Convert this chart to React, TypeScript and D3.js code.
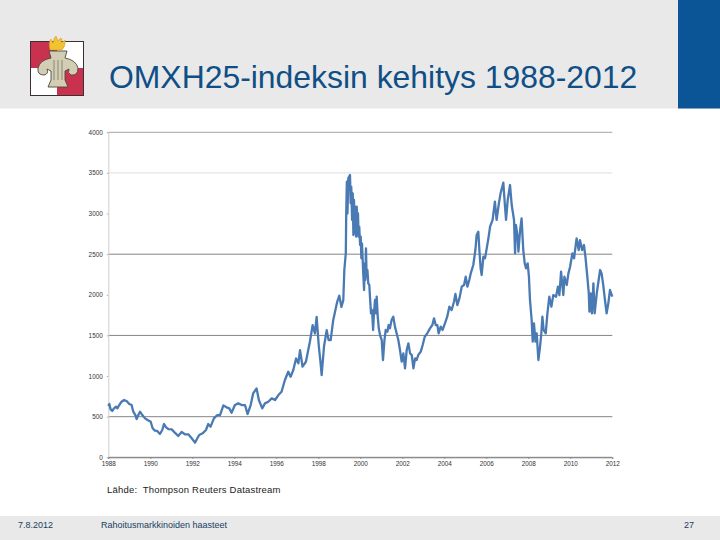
import React, { useEffect, useRef } from "react";
import * as d3 from "d3";

const titleText = "OMXH25-indeksin kehitys 1988-2012";
const sourceText = "Lähde:  Thompson Reuters Datastream";
const footerDate = "7.8.2012";
const footerName = "Rahoitusmarkkinoiden haasteet";
const footerPage = "27";

const yTicks = [0, 500, 1000, 1500, 2000, 2500, 3000, 3500, 4000];
const xTicks = [1988, 1990, 1992, 1994, 1996, 1998, 2000, 2002, 2004, 2006, 2008, 2010, 2012];
const darkGrid = [0, 500, 1500, 2500];
const midGrid = [4000];
const lightGrid = [3500];

const years = [
  1988.0, 1988.05, 1988.11, 1988.19, 1988.27, 1988.37, 1988.43, 1988.52, 1988.63, 1988.75, 1988.87,
  1989.0, 1989.11, 1989.19, 1989.29, 1989.35, 1989.43, 1989.51, 1989.62, 1989.75, 1989.87,
  1990.02, 1990.11, 1990.22, 1990.33, 1990.46, 1990.57, 1990.65, 1990.75, 1990.86,
  1991.02, 1991.17, 1991.33, 1991.49, 1991.65, 1991.81, 1991.97,
  1992.13, 1992.24, 1992.33, 1992.49, 1992.65, 1992.76, 1992.87,
  1993.03, 1993.19, 1993.32, 1993.48, 1993.63, 1993.76, 1993.87,
  1994.03, 1994.19, 1994.35, 1994.51, 1994.63, 1994.78, 1994.9,
  1995.06, 1995.17, 1995.33, 1995.46, 1995.62, 1995.78, 1995.94,
  1996.1, 1996.25, 1996.41, 1996.57, 1996.68, 1996.81, 1996.94,
  1997.05, 1997.13, 1997.25, 1997.41, 1997.6, 1997.73, 1997.84, 1997.92,
  1998.02, 1998.11, 1998.16, 1998.27, 1998.4, 1998.49, 1998.59, 1998.71, 1998.9,
  1999.0, 1999.1, 1999.19, 1999.24, 1999.31, 1999.33, 1999.36, 1999.39, 1999.43,
  1999.51, 1999.54, 1999.57, 1999.61, 1999.64, 1999.67, 1999.7, 1999.73, 1999.76, 1999.8,
  1999.83, 1999.86, 1999.89, 1999.92, 1999.95, 1999.99,
  2000.02, 2000.05, 2000.08, 2000.11, 2000.14, 2000.18, 2000.21, 2000.24, 2000.27, 2000.3,
  2000.34, 2000.38, 2000.43, 2000.46, 2000.51, 2000.56, 2000.61, 2000.65, 2000.7, 2000.75,
  2000.78, 2000.83, 2000.88, 2000.94,
  2001.02, 2001.08, 2001.15, 2001.21, 2001.29, 2001.35, 2001.41, 2001.49, 2001.57, 2001.65,
  2001.73, 2001.81, 2001.89, 2001.97,
  2002.05, 2002.13, 2002.21, 2002.29, 2002.37, 2002.45, 2002.53, 2002.61, 2002.68, 2002.76,
  2002.88, 2002.97,
  2003.07, 2003.19, 2003.32, 2003.43, 2003.51, 2003.59, 2003.67, 2003.73, 2003.83, 2003.92,
  2004.03, 2004.14, 2004.24, 2004.35, 2004.46, 2004.53, 2004.62, 2004.72, 2004.83, 2004.94,
  2005.02, 2005.1, 2005.19, 2005.26, 2005.38, 2005.48, 2005.54, 2005.62, 2005.67, 2005.73,
  2005.78, 2005.86, 2005.94,
  2006.02, 2006.1, 2006.18, 2006.3, 2006.41, 2006.49, 2006.6, 2006.68, 2006.81, 2006.88, 2006.94,
  2007.02, 2007.13, 2007.21, 2007.32, 2007.37, 2007.41, 2007.49, 2007.53, 2007.61, 2007.68,
  2007.76, 2007.83, 2007.89, 2007.97,
  2008.03, 2008.08, 2008.16, 2008.21, 2008.27, 2008.34, 2008.4, 2008.48, 2008.56, 2008.62,
  2008.67, 2008.73, 2008.83, 2008.91,
  2009.0, 2009.1, 2009.19, 2009.32, 2009.41, 2009.48, 2009.56, 2009.67, 2009.72, 2009.83,
  2009.91, 2009.99,
  2010.1, 2010.18, 2010.3, 2010.4, 2010.46, 2010.56, 2010.65, 2010.72, 2010.81, 2010.88,
  2010.91, 2010.97,
  2011.03, 2011.1, 2011.16, 2011.26, 2011.35, 2011.42, 2011.49, 2011.57, 2011.65, 2011.73,
  2011.81, 2011.89, 2012.0,
];

const values = [
  631, 656, 590, 570, 602, 623, 602, 643, 684, 705, 693,
  656, 643, 561, 520, 471, 520, 561, 520, 479, 459,
  438, 357, 328, 324, 287, 336, 410, 369, 348,
  344, 303, 262, 311, 283, 283, 234,
  180, 234, 275, 295, 336, 410, 377,
  479, 520, 520, 639, 615, 602, 549,
  643, 664, 643, 643, 533, 643, 787,
  848, 705, 602, 664, 684, 725, 705,
  766, 807, 951, 1053, 992, 1074, 1217,
  1156, 1320, 1115, 1176, 1422, 1627, 1524, 1729,
  1381, 1156, 1012, 1360, 1565, 1442, 1442, 1688, 1914,
  1990, 1850, 1935, 2305, 2514, 3006, 3392, 3000, 3437,
  3474, 3126, 3331, 2920, 3249, 2736, 3167, 2756, 3085, 2715,
  3085, 2736, 3003, 2715, 2838, 2613,
  2715, 2449, 2633, 2449, 2264, 2059, 2387, 2182, 2572, 2223,
  2305, 2141, 2120, 1977, 1772, 1813, 1567, 1772, 1936, 1772,
  1977, 1731, 1587, 1505,
  1443, 1197, 1443, 1567, 1546, 1628, 1587, 1690, 1731, 1608,
  1526, 1443, 1320, 1177,
  1279, 1095, 1320, 1402, 1279, 1259, 1095, 1218, 1197, 1259,
  1300, 1382,
  1484, 1526, 1587, 1628, 1710, 1628, 1628, 1526, 1608, 1567,
  1649, 1731, 1854, 1813, 1915, 2010, 1874, 1956, 2100, 2120,
  2223, 2100, 2182, 2264, 2367, 2551, 2736, 2777, 2551, 2326,
  2244, 2469, 2449,
  2572, 2695, 2838, 2921, 3146, 2921, 3126, 3249, 3380, 3126, 2921,
  3167, 3351, 3105, 2921, 2510, 2859, 2715, 2531, 2797, 2941,
  2551, 2387, 2326, 2387,
  2223, 1936, 1690, 1423, 1649, 1423, 1526, 1197, 1361, 1526,
  1731, 1567, 1526, 1772,
  1977, 1854, 1997, 1977, 2100, 1997, 2285, 1997, 2223, 2120,
  2264, 2346,
  2510, 2449, 2695, 2551, 2674, 2551, 2613, 2469, 2223, 2018,
  1792, 2018,
  1772, 2141, 1772, 2018, 2182, 2305, 2264, 2120, 1936, 1772,
  1895, 2059, 1977,
];

const W = 720;
const H = 540;
const sans = "'Liberation Sans', Arial, sans-serif";

function Logo() {
  return (
    <g>
      <rect x={30.5} y={41.5} width={53} height={54} fill="#fff" stroke="#3a3030" strokeWidth={1} />
      <rect x={31} y={42} width={26} height={26} fill="#c8324f" />
      <rect x={57} y={68} width={26} height={27} fill="#c8324f" />
      <path d="M50 50 Q48 42 51 39 L53 43 Q54 37 56 36 L58 41 Q60 37 62 39 L61 43 L65 40 Q66 46 62 50 Z" fill="#f2c230" stroke="#c8962a" strokeWidth={0.5} />
      <path d="M49 51 L67 51 L65 58 Q76 60 78 68 Q78 76 71 75 Q67 73 69 69 L65 71 L65 80 L68 87 L48 87 L51 80 L51 71 L47 69 Q49 74 44 75 Q37 75 38 68 Q40 60 51 58 Z" fill="#d3cdb4" stroke="#4a4a3c" strokeWidth={0.9} />
      <path d="M54 60 V80 M58 60 V80 M62 60 V80" stroke="#6d6a58" strokeWidth={0.7} fill="none" />
    </g>
  );
}

export default function App() {
  const chart = useRef<SVGGElement | null>(null);

  useEffect(() => {
    const x = d3.scaleLinear().domain([1988, 2012]).range([108.3, 612.3]);
    const y = d3.scaleLinear().domain([0, 4000]).range([457.3, 132.3]);
    const g = d3.select(chart.current);
    g.selectAll("*").remove();

    const gridColor = (v: number) =>
      darkGrid.includes(v) ? "#858585" : midGrid.includes(v) ? "#a5a5a5" : lightGrid.includes(v) ? "#dedede" : "none";

    g.append("g")
      .selectAll("line")
      .data(yTicks)
      .join("line")
      .attr("x1", x.range()[0])
      .attr("x2", x.range()[1])
      .attr("y1", (d) => y(d))
      .attr("y2", (d) => y(d))
      .attr("stroke", (d) => gridColor(d))
      .attr("stroke-width", 1);

    const left = g.append("g").attr("transform", `translate(${x.range()[0]},0)`).call(
      d3.axisLeft(y).tickValues(yTicks).tickFormat(d3.format("d") as any).tickSize(1.5).tickPadding(4)
    );
    left.select(".domain").attr("stroke", "#cfcfcf").attr("stroke-width", 1);
    left.selectAll(".tick line").attr("stroke", "#b5b5b5");
    left.selectAll("text").attr("font-family", sans).attr("font-size", 6.4).attr("fill", "#333");

    const bottom = g.append("g").attr("transform", `translate(0,${y.range()[0]})`).call(
      d3.axisBottom(x).tickValues(xTicks).tickFormat(d3.format("d") as any).tickSize(1.5).tickPadding(3)
    );
    bottom.select(".domain").attr("stroke", "#858585");
    bottom.selectAll(".tick line").attr("stroke", "#858585");
    bottom.selectAll("text").attr("font-family", sans).attr("font-size", 6.4).attr("fill", "#333");

    const line = d3
      .line<number>()
      .x((d) => x(d))
      .y((_, i) => y(values[i]));

    g.append("path")
      .attr("d", line(years))
      .attr("fill", "none")
      .attr("stroke", "#4a7ab3")
      .attr("stroke-width", 2.3)
      .attr("stroke-linejoin", "round");
  }, []);

  return (
    <svg
      width={W}
      height={H}
      viewBox={`0 0 ${W} ${H}`}
      style={{ position: "absolute", left: 0, top: 0, background: "#fff", display: "block" }}
    >
      <rect x={0} y={0} width={W} height={108.5} fill="#e9e9e9" />
      <rect x={678} y={0} width={42} height={108.5} fill="#0b5596" />
      <Logo />
      <text x={109} y={88} fontFamily={sans} fontSize={31.9} fill="#0f4f86">
        {titleText}
      </text>
      <g ref={chart} />
      <text x={107} y={493} fontFamily={sans} fontSize={9.5} fill="#222" letterSpacing={0.2} xmlSpace="preserve">
        {sourceText}
      </text>
      <rect x={0} y={516} width={W} height={24} fill="#e9e9e9" />
      <text x={18} y={528} fontFamily={sans} fontSize={9} fill="#17405f">
        {footerDate}
      </text>
      <text x={101} y={528} fontFamily={sans} fontSize={9} fill="#17405f">
        {footerName}
      </text>
      <text x={684} y={528} fontFamily={sans} fontSize={9} fill="#17405f">
        {footerPage}
      </text>
    </svg>
  );
}
